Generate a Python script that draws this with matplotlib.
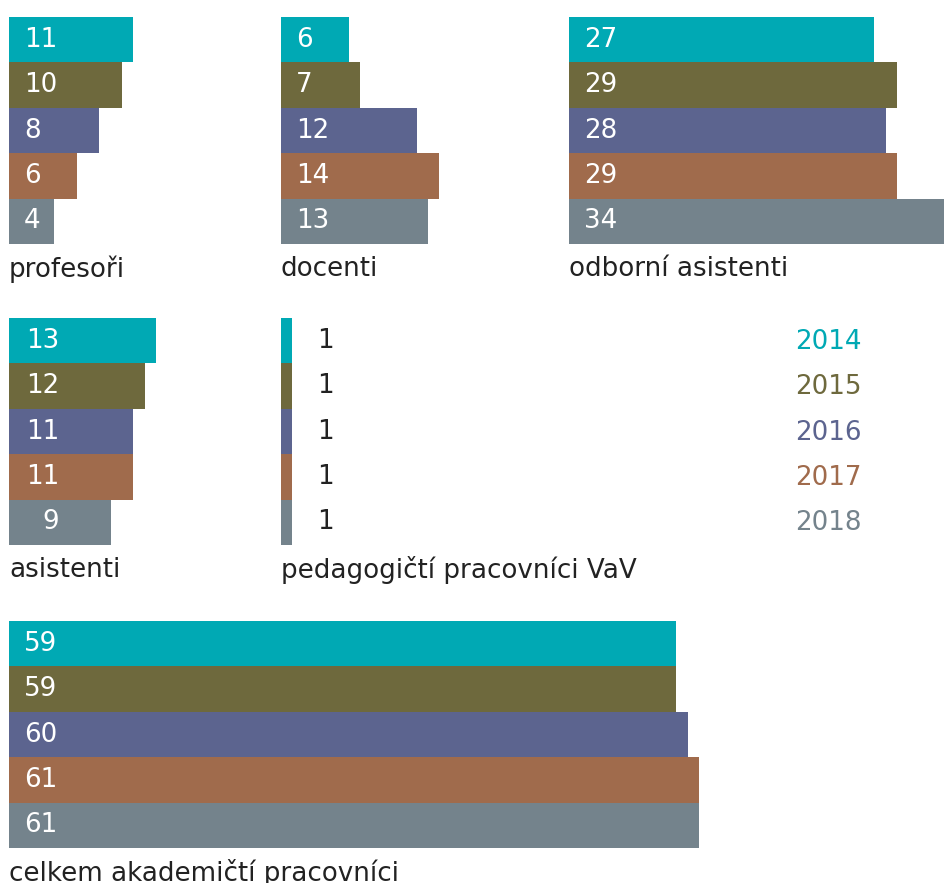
import matplotlib.pyplot as plt

plt.rcParams['font.family'] = ['DejaVu Sans']

years = ['2014', '2015', '2016', '2017', '2018']
colors = ['#00a9b4', '#6e693d', '#5c648f', '#a06b4c', '#74838c']

profesori = [11, 10, 8, 6, 4]
docenti = [6, 7, 12, 14, 13]
odborni_asistenti = [27, 29, 28, 29, 34]
asistenti = [13, 12, 11, 11, 9]
pedagogicti = [1, 1, 1, 1, 1]
celkem = [59, 59, 60, 61, 61]

W, H = 945, 883
px_per_unit = 11.31
fs = 18.8

fig = plt.figure(figsize=(W / 100, H / 100), dpi=100)

# (values, title, left px, top px, width px, label mode)
panels = [
    (profesori, 'profesoři', 9, 17, 260, 'in'),
    (docenti, 'docenti', 281, 17, 280, 'in'),
    (odborni_asistenti, 'odborní asistenti', 569, 17, 376, 'in'),
    (asistenti, 'asistenti', 9, 318, 260, 'right'),
    (pedagogicti, 'pedagogičtí pracovníci VaV', 281, 318, 480, 'out'),
    (celkem, 'celkem akademičtí pracovníci', 9, 621, 936, 'in'),
]
bar_h = 227

for vals, title, left, top, width, mode in panels:
    ax = fig.add_axes([left / W, 1 - (top + bar_h) / H, width / W, bar_h / H])
    ax.barh(range(len(vals)), vals, height=1.0, color=colors)
    ax.set_xlim(0, width / px_per_unit)
    ax.set_ylim(4.5, -0.5)
    ax.axis('off')
    for i, v in enumerate(vals):
        if mode == 'in':
            ax.text(15 / px_per_unit, i, str(v), color='white', fontsize=fs,
                    va='center', ha='left')
        elif mode == 'right':
            ax.text(50 / px_per_unit, i, str(v), color='white', fontsize=fs,
                    va='center', ha='right')
        else:
            ax.text(36 / px_per_unit, i, str(v), color='#222222', fontsize=fs,
                    va='center', ha='left')
    fig.text(left / W, 1 - (top + bar_h + 25) / H, title, fontsize=fs,
             color='#222222', va='center', ha='left')

# year legend
for i, (yr, c) in enumerate(zip(years, colors)):
    fig.text(795 / W, 1 - (342 + i * 45.3) / H, yr, color=c, fontsize=fs,
             va='center', ha='left')

fig.savefig('out.png', dpi=100)
